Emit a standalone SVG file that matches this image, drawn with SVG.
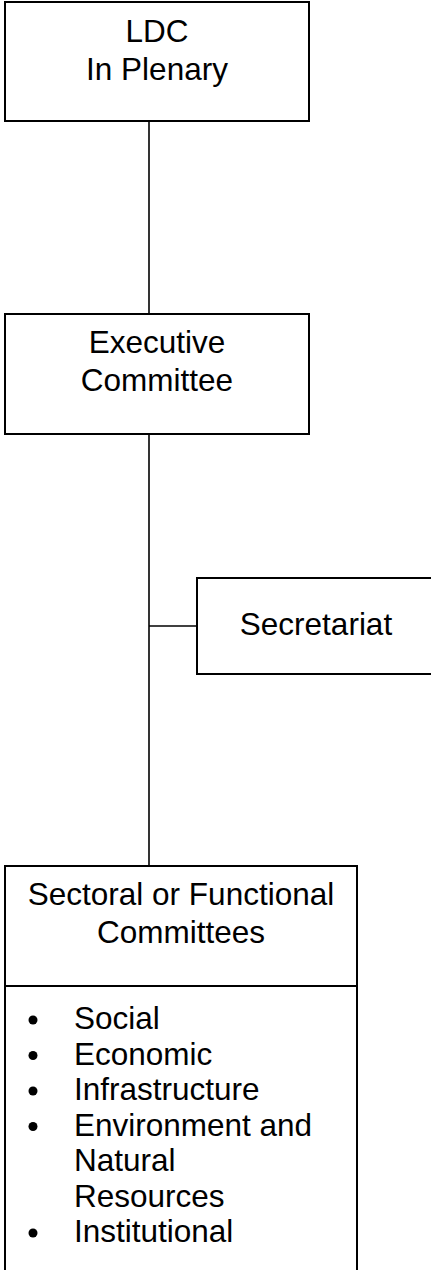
<svg xmlns="http://www.w3.org/2000/svg" width="431" height="1270" viewBox="0 0 431 1270">
<style>
.box{fill:#fff;stroke:#000;stroke-width:2}
.ln{stroke:#000;stroke-width:1.6;fill:none}
text{font-family:"Liberation Sans",Arial,sans-serif;font-size:31.5px;fill:#000}
.c{text-anchor:middle}
</style>
<rect width="431" height="1270" fill="#fff"/>
<g id="connectors">
<line class="ln" x1="149" y1="121" x2="149" y2="314"/>
<line class="ln" x1="149" y1="434" x2="149" y2="866"/>
<line class="ln" x1="149" y1="626" x2="197" y2="626"/>
</g>
<g id="ldc">
<rect class="box" x="5" y="2" width="304" height="119"/>
<text class="c" x="157" y="42">LDC</text>
<text class="c" x="157" y="80">In Plenary</text>
</g>
<g id="executive">
<rect class="box" x="5" y="314" width="304" height="120"/>
<text class="c" x="157" y="353">Executive</text>
<text class="c" x="157" y="391">Committee</text>
</g>
<g id="secretariat">
<rect class="box" x="197" y="578" width="240" height="96"/>
<text class="c" x="316" y="635">Secretariat</text>
</g>
<g id="sectoral">
<rect class="box" x="5" y="866" width="352" height="410"/>
<line class="box" x1="5" y1="986" x2="357" y2="986"/>
<text class="c" x="181" y="905">Sectoral or Functional</text>
<text class="c" x="181" y="943">Committees</text>
<circle cx="33" cy="1020" r="4.5"/>
<text x="74" y="1029">Social</text>
<circle cx="33" cy="1055.5" r="4.5"/>
<text x="74" y="1064.5">Economic</text>
<circle cx="33" cy="1091" r="4.5"/>
<text x="74" y="1100">Infrastructure</text>
<circle cx="33" cy="1126.5" r="4.5"/>
<text x="74" y="1135.5">Environment and</text>
<text x="74" y="1171">Natural</text>
<text x="74" y="1206.5">Resources</text>
<circle cx="33" cy="1233" r="4.5"/>
<text x="74" y="1242">Institutional</text>
</g>
</svg>
